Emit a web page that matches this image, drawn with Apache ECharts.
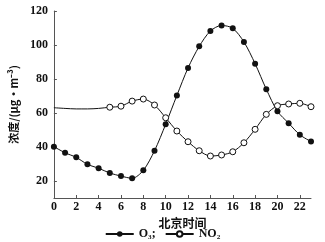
<!DOCTYPE html>
<html><head><meta charset="utf-8">
<script src="https://cdn.jsdelivr.net/npm/echarts@6/dist/echarts.min.js"></script>
<style>html,body{margin:0;padding:0;background:#fff}#c{width:325px;height:242px}</style>
</head><body><div id="c"></div>
<script>
const hours = ['0','1','2','3','4','5','6','7','8','9','10','11','12','13','14','15','16','17','18','19','20','21','22','23'];
const o3 = [40.2, 36.6, 33.9, 29.8, 27.5, 24.7, 22.9, 21.6, 26.3, 37.8, 53.4, 70.3, 86.5, 99.2, 108.2, 111.5, 109.8, 101.8, 89, 74, 61, 54, 47.2, 43.2];
const no2 = [63.1, 62.7, 62.4, 62.4, 62.7, 63.4, 64, 67, 68.2, 64.7, 57.2, 49.4, 43.1, 37.8, 34.7, 35.3, 37.2, 42.5, 50.4, 59.2, 64.3, 65.3, 65.7, 63.7];
const no2HiddenUntil = 5;
const yTicks = [20, 40, 60, 80, 100, 120];
const serif = 'Liberation Serif';
const cjk = 'Noto Sans CJK SC';

const chart = echarts.init(document.getElementById('c'), null, {renderer: 'canvas'});
chart.setOption({
  animation: false,
  backgroundColor: '#fff',
  grid: {left: 43, right: 14, top: 11, bottom: 44},
  legend: {
    bottom: 2, left: 'center', padding: 0,
    itemWidth: 28, itemHeight: 7, itemGap: 9,
    textStyle: {fontFamily: serif, fontWeight: 'bold', fontSize: 12, color: '#111'},
    data: [{name: 'O₃;'}, {name: 'NO₂'}]
  },
  xAxis: {
    type: 'category', data: hours, boundaryGap: false,
    name: '北京时间', nameLocation: 'middle', nameGap: 14,
    nameTextStyle: {fontFamily: cjk, fontWeight: 'bold', fontSize: 12, color: '#111'},
    axisLine: {lineStyle: {color: '#555', width: 1}},
    axisTick: {inside: true, length: 3, interval: 1, lineStyle: {color: '#555'}},
    axisLabel: {interval: 1, margin: 3, fontFamily: serif, fontWeight: 'bold', fontSize: 12, color: '#111'},
    splitLine: {show: false}
  },
  yAxis: {
    type: 'value', min: 10, max: 120,
    name: '浓度/(μg·m⁻³)', nameLocation: 'middle', nameGap: 31, nameRotate: 90,
    nameTextStyle: {fontFamily: cjk, fontWeight: 'bold', fontSize: 11, color: '#111'},
    axisLine: {show: true, lineStyle: {color: '#555', width: 1}},
    axisTick: {show: true, inside: true, length: 3, customValues: yTicks, lineStyle: {color: '#555'}},
    axisLabel: {customValues: yTicks, margin: 6, fontFamily: serif, fontWeight: 'bold', fontSize: 12, color: '#111'},
    splitLine: {show: false}
  },
  series: [
    {
      name: 'O₃;', type: 'line', data: o3, smooth: 0.3,
      symbol: 'circle', symbolSize: 6,
      lineStyle: {color: '#111', width: 1},
      itemStyle: {color: '#111', borderColor: '#111', borderWidth: 0}
    },
    {
      name: 'NO₂', type: 'line', smooth: 0.3,
      data: no2.map((v, i) => i < no2HiddenUntil ? {value: v, symbol: 'none'} : v),
      symbol: 'circle', symbolSize: 6,
      lineStyle: {color: '#111', width: 1},
      itemStyle: {color: '#fff', borderColor: '#111', borderWidth: 1}
    }
  ]
});
</script></body></html>
